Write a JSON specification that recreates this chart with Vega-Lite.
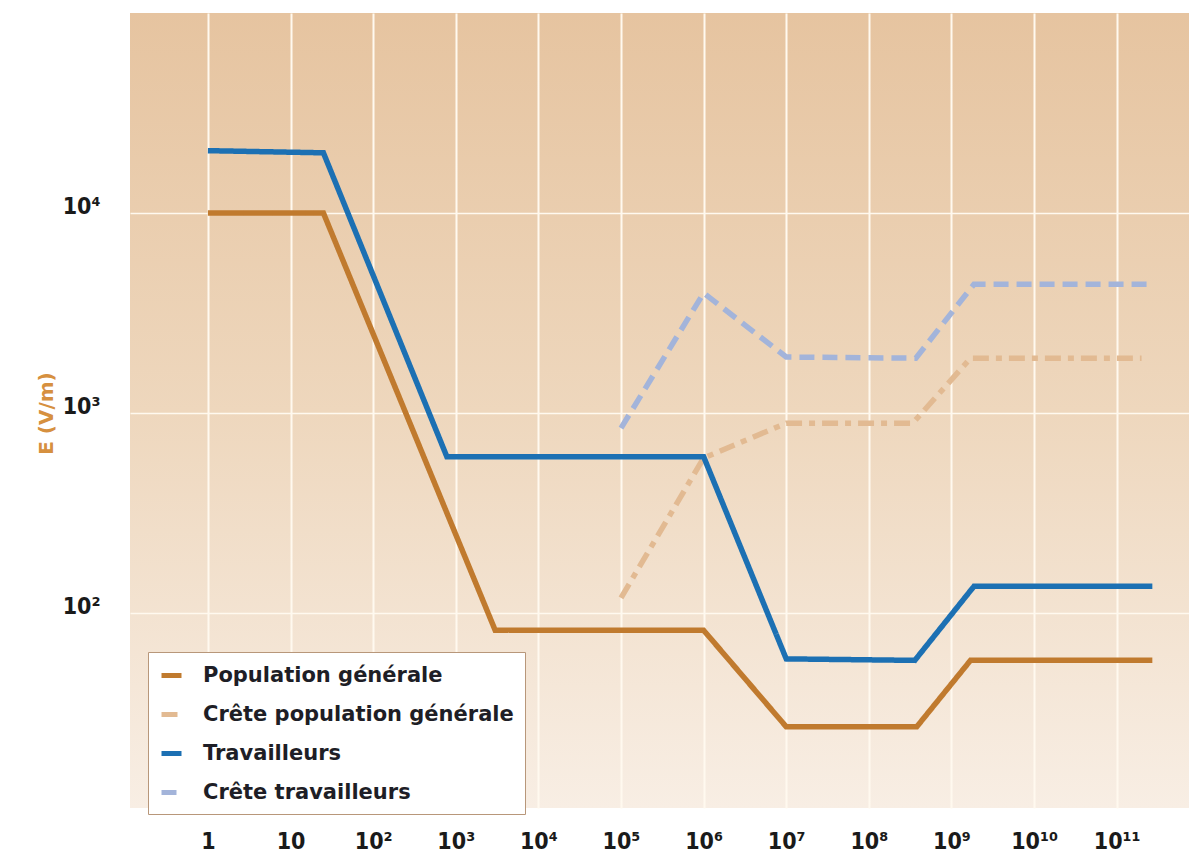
{
  "$schema": "https://vega.github.io/schema/vega-lite/v6.json",
  "width": 1059,
  "height": 795,
  "autosize": {"type": "none"},
  "padding": {"left": 130, "top": 13, "right": 0, "bottom": 44},
  "background": "#ffffff",
  "config": {
    "view": {
      "stroke": null,
      "fill": {"gradient": "linear", "x1": 0, "y1": 0, "x2": 0, "y2": 1,
        "stops": [{"offset": 0, "color": "#E6C4A0"}, {"offset": 0.5, "color": "#EED7BD"}, {"offset": 1, "color": "#F8EEE4"}]}
    },
    "legend": {
      "orient": "none",
      "legendX": 18,
      "legendY": 639,
      "fillColor": "#FFFFFF",
      "strokeColor": "#B8977A",
      "padding": 11,
      "labelFont": "DejaVu Sans",
      "labelFontWeight": "bold",
      "labelFontSize": 21,
      "labelColor": "#1E1E26",
      "labelLimit": 500,
      "symbolType": "stroke",
      "symbolSize": 400,
      "symbolStrokeWidth": 5,
      "labelOffset": 19,
      "rowPadding": 16
    }
  },
  "data": {
    "values": [
      {"serie": "Population générale", "f": 1, "e": 10000},
      {"serie": "Population générale", "f": 25, "e": 10000},
      {"serie": "Population générale", "f": 3000, "e": 82},
      {"serie": "Population générale", "f": 1000000, "e": 82},
      {"serie": "Population générale", "f": 10000000, "e": 27},
      {"serie": "Population générale", "f": 380000000, "e": 27},
      {"serie": "Population générale", "f": 1700000000, "e": 58},
      {"serie": "Population générale", "f": 270000000000, "e": 58},
      {"serie": "Crête population générale", "f": 100000, "e": 119},
      {"serie": "Crête population générale", "f": 1000000, "e": 596},
      {"serie": "Crête population générale", "f": 10000000, "e": 890},
      {"serie": "Crête population générale", "f": 340000000, "e": 890},
      {"serie": "Crête population générale", "f": 1700000000, "e": 1880},
      {"serie": "Crête population générale", "f": 200000000000, "e": 1880},
      {"serie": "Travailleurs", "f": 1, "e": 20500},
      {"serie": "Travailleurs", "f": 25, "e": 20000},
      {"serie": "Travailleurs", "f": 780, "e": 605},
      {"serie": "Travailleurs", "f": 1000000, "e": 605},
      {"serie": "Travailleurs", "f": 10000000, "e": 59},
      {"serie": "Travailleurs", "f": 360000000, "e": 58},
      {"serie": "Travailleurs", "f": 1870000000, "e": 136},
      {"serie": "Travailleurs", "f": 270000000000, "e": 136},
      {"serie": "Crête travailleurs", "f": 100000, "e": 841},
      {"serie": "Crête travailleurs", "f": 1000000, "e": 3980},
      {"serie": "Crête travailleurs", "f": 10000000, "e": 1905},
      {"serie": "Crête travailleurs", "f": 370000000, "e": 1880},
      {"serie": "Crête travailleurs", "f": 1870000000, "e": 4400},
      {"serie": "Crête travailleurs", "f": 240000000000, "e": 4400}
    ]
  },
  "mark": {"type": "line", "strokeWidth": 5.5, "strokeCap": "butt", "clip": true},
  "encoding": {
    "x": {
      "field": "f",
      "type": "quantitative",
      "scale": {"type": "log", "domain": [0.114, 750000000000], "nice": false},
      "axis": {
        "title": null,
        "values": [1, 10, 100, 1000, 10000, 100000, 1000000, 10000000, 100000000, 1000000000, 10000000000, 100000000000],
        "grid": true,
        "gridColor": "#FFF9EF",
        "gridWidth": 2,
        "gridOpacity": 1,
        "domain": false,
        "ticks": false,
        "labelPadding": 40,
        "labelBaseline": "alphabetic",
        "labelFont": "DejaVu Sans Condensed, DejaVu Sans, sans-serif",
        "labelFontWeight": "bold",
        "labelFontSize": 23,
        "labelColor": "#1A1A1A",
        "labelFlush": false,
        "labelOverlap": false,
        "labelExpr": "datum.value == 1 ? '1' : datum.value == 10 ? '10' : '10' + (round(log(datum.value)/LN10) >= 10 ? '¹' + substring('⁰¹²³⁴⁵⁶⁷⁸⁹', round(log(datum.value)/LN10) - 10, round(log(datum.value)/LN10) - 9) : substring('⁰¹²³⁴⁵⁶⁷⁸⁹', round(log(datum.value)/LN10), round(log(datum.value)/LN10) + 1))"
      }
    },
    "y": {
      "field": "e",
      "type": "quantitative",
      "scale": {"type": "log", "domain": [10.6, 100000], "nice": false},
      "axis": {
        "title": "E (V/m)",
        "titleFont": "DejaVu Sans",
        "titleFontWeight": "bold",
        "titleFontSize": 20,
        "titleColor": "#D6903F",
        "titleAngle": -90,
        "titleX": -84,
        "titleY": 400,
        "titleAlign": "center",
        "titleBaseline": "middle",
        "values": [100, 1000, 10000],
        "grid": true,
        "gridColor": "#FFF9EF",
        "gridWidth": 1.5,
        "gridOpacity": 1,
        "domain": false,
        "ticks": false,
        "labelPadding": 30,
        "labelBaseline": "alphabetic",
        "labelFont": "DejaVu Sans Condensed, DejaVu Sans, sans-serif",
        "labelFontWeight": "bold",
        "labelFontSize": 23,
        "labelColor": "#1A1A1A",
        "labelExpr": "'10' + substring('⁰¹²³⁴⁵⁶⁷⁸⁹', round(log(datum.value)/LN10), round(log(datum.value)/LN10) + 1)"
      }
    },
    "color": {
      "field": "serie",
      "type": "nominal",
      "scale": {
        "domain": ["Population générale", "Crête population générale", "Travailleurs", "Crête travailleurs"],
        "range": ["#C07A2E", "#E2BA92", "#1C70B3", "#A3B4DA"]
      },
      "legend": {"title": null}
    },
    "strokeDash": {
      "field": "serie",
      "type": "nominal",
      "scale": {
        "domain": ["Population générale", "Crête population générale", "Travailleurs", "Crête travailleurs"],
        "range": [[1, 0], [16, 7, 6, 7], [1, 0], [15, 8]]
      },
      "legend": {"title": null}
    }
  }
}
